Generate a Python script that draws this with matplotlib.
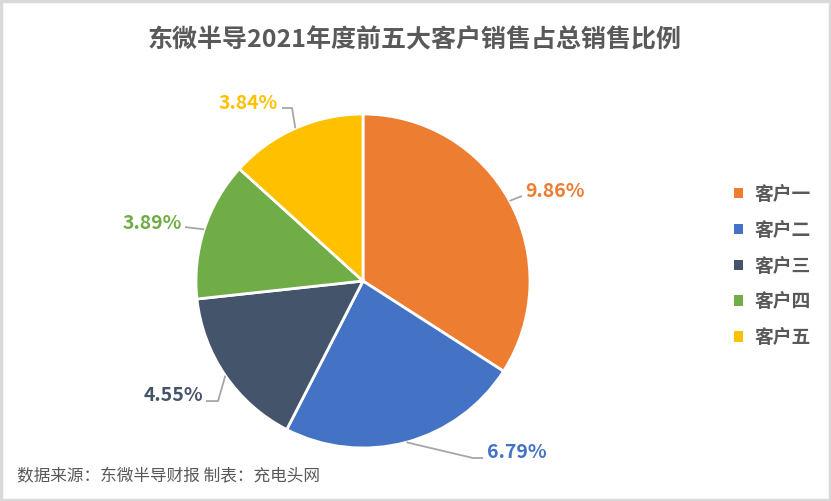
import matplotlib.pyplot as plt
import numpy as np
from matplotlib.patches import Patch, Rectangle

plt.rcParams['font.family'] = ['Noto Sans CJK SC', 'DejaVu Sans']

# =====================================
# DATA
# =====================================
customers = ['客户一', '客户二', '客户三', '客户四', '客户五']
shares = [9.86, 6.79, 4.55, 3.89, 3.84]
colors = ['#ED7D31', '#4472C4', '#44546A', '#70AD47', '#FFC000']

title = '东微半导2021年度前五大客户销售占总销售比例'
source = '数据来源：东微半导财报 制表：充电头网'

# label layout (pie radius units): text anchor, alignment, elbow/end of leader
label_xy = [(0.970, 0.533), (0.743, -1.024), (-0.958, -0.683), (-1.084, 0.347), (-0.509, 1.060)]
label_ha = ['left', 'left', 'right', 'right', 'right']
leader_pts = [
    [(0.952, 0.509)],
    [(0.659, -1.060), (0.719, -1.060)],
    [(-0.868, -0.719), (-0.940, -0.719)],
    [(-1.066, 0.323)],
    [(-0.425, 1.036), (-0.485, 1.036)],
]

# =====================================
# FIGURE
# =====================================
W, H = 831, 501
cx, cy, R = 363, 281, 167
fig = plt.figure(figsize=(W / 100, H / 100), dpi=100)
ax = fig.add_axes([0, 0, 1, 1])

wedges, _ = ax.pie(shares, colors=colors, startangle=90, counterclock=False,
                   radius=1, wedgeprops=dict(edgecolor='white', linewidth=2))
ax.set_xlim(-cx / R, (W - cx) / R)
ax.set_ylim(-(H - cy) / R, cy / R)
ax.set_aspect('equal', adjustable='box')
ax.axis('off')

# leader lines + labels
for w, val, col, (tx, ty), ha, pts in zip(wedges, shares, colors, label_xy, label_ha, leader_pts):
    mid = np.deg2rad((w.theta1 + w.theta2) / 2)
    xs = [np.cos(mid)] + [p[0] for p in pts]
    ys = [np.sin(mid)] + [p[1] for p in pts]
    ax.plot(xs, ys, color='#A6A6A6', lw=1.3, solid_capstyle='butt', zorder=1)
    ax.text(tx, ty, f'{val:.2f}%', color=col, fontsize=14, fontweight='bold',
            ha=ha, va='center')

# title & footer
fig.text(415 / W, 1 - 40 / H, title, ha='center', va='center',
         fontsize=18, fontweight='bold', color='#595959')
fig.text(17 / W, 1 - 477 / H, source, ha='left', va='center',
         fontsize=12, color='#595959')

# legend
handles = [Patch(facecolor=c, edgecolor='none') for c in colors]
leg = fig.legend(handles, customers, loc='center left', bbox_to_anchor=(717 / W, 1 - 266 / H),
                 frameon=False, handlelength=0.5, handleheight=0.5, handletextpad=0.6,
                 labelspacing=0.9, prop=dict(size=13.5, weight='bold'))
for t in leg.get_texts():
    t.set_color('#595959')

# outer border
fig.patches.append(Rectangle((0.0015, 0.0025), 0.997, 0.995, transform=fig.transFigure,
                             fill=False, edgecolor='#D9D9D9', linewidth=2.5))

plt.savefig('out.png', dpi=100)
plt.close()
